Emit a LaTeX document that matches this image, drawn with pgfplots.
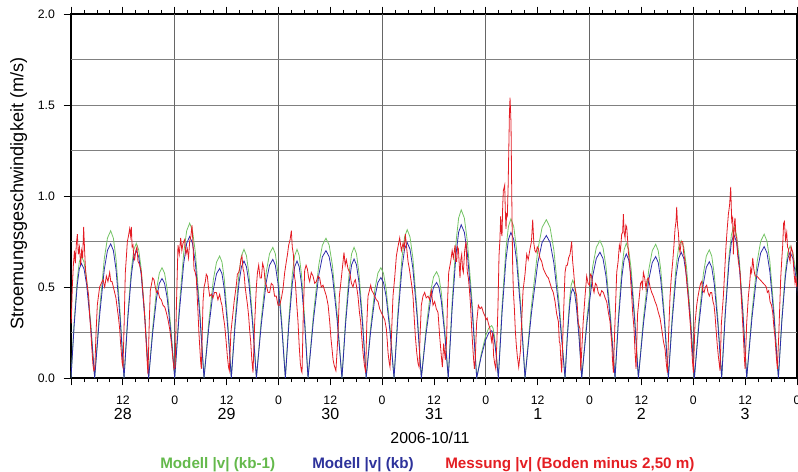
\documentclass[border=0pt]{standalone}
\usepackage{pgfplots}
\pgfplotsset{compat=1.18}
\usepackage{pgfplotstable}
\usepackage{fontspec}
\setmainfont{Liberation Sans}
\definecolor{mgreen}{RGB}{115,195,100}
\definecolor{mblue}{RGB}{45,45,170}
\definecolor{mred}{RGB}{228,28,36}
\definecolor{tgreen}{RGB}{100,185,75}
\definecolor{tblue}{RGB}{45,50,155}
\definecolor{tred}{RGB}{228,30,35}
\newcommand{\dl}[1]{{\fontsize{12}{12}\selectfont #1}}

% model: t (hours since 2006-10-28 00:00), |v| kb, |v| kb-1
\pgfplotstableread{
t b g
0.00 0 0
0.72 0.286 0.304
1.44 0.510 0.542
1.92 0.599 0.637
2.40 0.630 0.670
3.02 0.599 0.637
3.63 0.510 0.542
4.56 0.286 0.304
5.48 0 0
6.59 0.335 0.367
7.70 0.596 0.654
8.44 0.701 0.769
9.18 0.737 0.809
9.80 0.701 0.769
10.42 0.596 0.654
11.34 0.335 0.367
12.27 0 0
13.12 0.318 0.336
13.97 0.566 0.599
14.53 0.666 0.704
15.10 0.700 0.740
15.67 0.666 0.704
16.25 0.566 0.599
17.11 0.318 0.336
17.97 0 0
18.90 0.248 0.275
19.82 0.443 0.490
20.44 0.520 0.576
21.06 0.547 0.606
21.65 0.520 0.576
22.24 0.443 0.490
23.12 0.248 0.275
24.00 0 0
25.04 0.353 0.386
26.08 0.629 0.688
26.77 0.740 0.809
27.46 0.778 0.851
28.12 0.740 0.809
28.79 0.629 0.688
29.78 0.353 0.386
30.78 0 0
31.87 0.273 0.304
32.95 0.487 0.542
33.68 0.573 0.637
34.40 0.602 0.670
34.94 0.573 0.637
35.48 0.487 0.542
36.29 0.273 0.304
37.10 0 0
37.98 0.292 0.321
38.86 0.520 0.572
39.44 0.611 0.672
40.03 0.643 0.707
40.60 0.611 0.672
41.18 0.520 0.572
42.04 0.292 0.321
42.90 0 0
44.04 0.296 0.326
45.18 0.527 0.581
45.94 0.620 0.683
46.70 0.652 0.718
47.28 0.620 0.683
47.86 0.527 0.581
48.73 0.296 0.326
49.60 0 0
50.41 0.292 0.321
51.22 0.520 0.572
51.76 0.611 0.672
52.30 0.643 0.707
52.81 0.611 0.672
53.32 0.520 0.572
54.09 0.292 0.321
54.85 0 0
56.10 0.318 0.349
57.34 0.566 0.621
58.17 0.666 0.730
59.00 0.700 0.768
59.74 0.666 0.730
60.48 0.566 0.621
61.59 0.318 0.349
62.70 0 0
63.54 0.297 0.326
64.38 0.529 0.581
64.94 0.622 0.683
65.50 0.654 0.718
66.06 0.622 0.683
66.62 0.529 0.581
67.46 0.297 0.326
68.30 0 0
69.32 0.251 0.275
70.34 0.447 0.490
71.02 0.525 0.576
71.70 0.552 0.606
72.31 0.525 0.576
72.92 0.447 0.490
73.84 0.251 0.275
74.75 0 0
75.67 0.338 0.370
76.58 0.602 0.659
77.19 0.708 0.775
77.80 0.744 0.815
78.45 0.708 0.775
79.11 0.602 0.659
80.09 0.338 0.370
81.07 0 0
82.13 0.238 0.265
83.19 0.425 0.472
83.89 0.499 0.555
84.60 0.525 0.584
85.14 0.499 0.555
85.68 0.425 0.472
86.49 0.238 0.265
87.30 0 0
88.20 0.382 0.419
89.10 0.681 0.748
89.70 0.801 0.879
90.30 0.842 0.924
91.02 0.801 0.879
91.73 0.681 0.748
92.81 0.382 0.419
93.88 0 0
94.92 0.118 0.131
95.96 0.210 0.233
96.66 0.247 0.274
97.35 0.260 0.288
97.66 0.247 0.274
97.97 0.210 0.233
98.43 0.118 0.131
98.89 0 0
99.76 0.363 0.397
100.64 0.647 0.708
101.22 0.761 0.832
101.80 0.800 0.875
102.45 0.761 0.832
103.10 0.647 0.708
104.08 0.363 0.397
105.06 0 0
106.54 0.355 0.395
108.02 0.633 0.704
109.01 0.745 0.827
110.00 0.783 0.870
110.86 0.745 0.827
111.73 0.633 0.704
113.02 0.355 0.395
114.32 0 0
114.85 0.223 0.244
115.39 0.397 0.434
115.74 0.467 0.511
116.10 0.491 0.537
116.52 0.467 0.511
116.93 0.397 0.434
117.56 0.223 0.244
118.18 0 0
119.45 0.314 0.343
120.71 0.559 0.611
121.56 0.657 0.718
122.40 0.691 0.755
123.10 0.657 0.718
123.80 0.559 0.611
124.84 0.314 0.343
125.89 0 0
126.67 0.310 0.336
127.46 0.552 0.599
127.98 0.649 0.704
128.50 0.682 0.740
129.06 0.649 0.704
129.62 0.552 0.599
130.45 0.310 0.336
131.29 0 0
132.49 0.303 0.334
133.70 0.540 0.595
134.50 0.634 0.699
135.30 0.667 0.735
135.89 0.634 0.699
136.47 0.540 0.595
137.35 0.303 0.334
138.23 0 0
139.12 0.314 0.343
140.01 0.559 0.611
140.61 0.657 0.718
141.20 0.691 0.755
141.81 0.657 0.718
142.42 0.559 0.611
143.34 0.314 0.343
144.25 0 0
145.29 0.290 0.320
146.32 0.517 0.570
147.01 0.608 0.670
147.70 0.639 0.704
148.27 0.608 0.670
148.85 0.517 0.570
149.71 0.290 0.320
150.57 0 0
151.42 0.357 0.377
152.27 0.637 0.671
152.83 0.748 0.789
153.40 0.787 0.830
153.99 0.748 0.789
154.58 0.637 0.671
155.47 0.357 0.377
156.36 0 0
157.57 0.328 0.359
158.78 0.584 0.639
159.59 0.687 0.751
160.40 0.722 0.790
161.06 0.687 0.751
161.72 0.584 0.639
162.70 0.328 0.359
163.69 0 0
164.50 0.314 0.329
165.32 0.559 0.587
165.86 0.657 0.689
166.40 0.691 0.725
167.06 0.657 0.689
167.72 0.559 0.587
168.71 0.314 0.329
169.70 0 0
}\model

% measurement |v| (Boden minus 2,50 m)
\pgfplotstableread{
t v
0.05 0.30
0.30 0.50
0.55 0.62
0.80 0.70
1.00 0.63
1.25 0.74
1.47 0.79
1.70 0.68
1.95 0.72
2.24 0.62
2.45 0.70
2.70 0.66
2.93 0.83
3.15 0.70
3.35 0.60
3.55 0.55
3.80 0.50
4.09 0.45
4.30 0.35
4.55 0.27
4.80 0.17
5.09 0.07
5.30 0.04
5.50 0.05
5.80 0.25
6.09 0.40
6.35 0.45
6.63 0.50
7.00 0.52
7.41 0.54
7.80 0.50
8.18 0.56
8.55 0.53
8.95 0.58
9.20 0.53
9.49 0.53
9.80 0.50
10.10 0.47
10.40 0.44
10.72 0.38
11.00 0.33
11.26 0.27
11.45 0.20
11.65 0.14
11.85 0.08
12.03 0.06
12.30 0.30
12.57 0.58
12.80 0.66
13.04 0.75
13.30 0.78
13.58 0.82
13.80 0.78
13.96 0.83
14.15 0.72
14.35 0.73
14.55 0.66
14.73 0.65
15.00 0.70
15.27 0.72
15.50 0.64
15.74 0.63
16.00 0.61
16.28 0.58
16.60 0.48
16.89 0.40
17.15 0.30
17.43 0.18
17.65 0.08
17.82 0.02
18.10 0.30
18.35 0.48
18.59 0.51
18.90 0.55
19.21 0.54
19.50 0.50
19.75 0.47
20.10 0.48
20.52 0.44
20.90 0.43
21.29 0.40
21.70 0.39
22.06 0.36
22.45 0.32
22.83 0.27
23.10 0.22
23.37 0.16
23.60 0.10
23.84 0.05
24.10 0.06
24.40 0.40
24.76 0.73
25.05 0.68
25.38 0.77
25.65 0.70
25.92 0.74
26.30 0.76
26.60 0.68
26.92 0.71
27.20 0.66
27.46 0.75
27.75 0.78
28.00 0.84
28.20 0.75
28.46 0.60
28.75 0.58
29.00 0.55
29.20 0.45
29.39 0.36
29.60 0.25
29.77 0.18
30.00 0.09
30.16 0.05
30.35 0.22
30.55 0.42
30.80 0.50
31.09 0.53
31.30 0.57
31.55 0.56
31.80 0.50
32.09 0.45
32.50 0.46
32.86 0.44
33.20 0.47
33.63 0.47
34.00 0.43
34.40 0.46
34.70 0.42
34.94 0.40
35.25 0.34
35.56 0.29
35.90 0.20
36.18 0.12
36.45 0.06
36.64 0.04
37.00 0.25
37.49 0.36
37.75 0.42
38.03 0.47
38.30 0.52
38.49 0.57
38.80 0.58
39.03 0.60
39.30 0.65
39.57 0.67
39.80 0.60
40.03 0.58
40.30 0.50
40.57 0.45
40.85 0.40
41.11 0.34
41.35 0.26
41.58 0.20
41.85 0.10
42.12 0.03
42.50 0.30
42.89 0.50
43.15 0.58
43.43 0.62
43.75 0.55
44.05 0.55
44.35 0.63
44.66 0.60
44.95 0.52
45.20 0.51
45.60 0.47
45.97 0.47
46.35 0.52
46.74 0.51
47.10 0.45
47.51 0.45
47.90 0.40
48.29 0.40
48.70 0.44
49.06 0.49
49.45 0.58
49.83 0.64
50.10 0.68
50.37 0.73
50.70 0.76
50.99 0.81
51.20 0.72
51.45 0.68
51.70 0.56
51.91 0.53
52.20 0.42
52.53 0.31
52.80 0.18
53.07 0.08
53.30 0.04
53.46 0.03
53.75 0.35
54.07 0.59
54.40 0.62
54.69 0.60
55.00 0.55
55.23 0.53
55.60 0.58
56.00 0.56
56.40 0.52
56.77 0.53
57.15 0.56
57.54 0.55
57.90 0.50
58.32 0.51
58.70 0.48
59.09 0.45
59.50 0.40
59.86 0.31
60.15 0.22
60.40 0.16
60.65 0.10
60.90 0.07
61.30 0.04
61.70 0.20
62.10 0.45
62.56 0.55
63.17 0.69
63.45 0.62
63.71 0.65
64.10 0.60
64.49 0.58
64.90 0.52
65.26 0.50
65.55 0.53
65.80 0.54
66.10 0.50
66.41 0.45
66.75 0.36
67.03 0.31
67.30 0.22
67.57 0.14
67.90 0.07
68.19 0.03
68.45 0.30
68.73 0.45
69.05 0.48
69.35 0.51
69.60 0.48
69.89 0.47
70.25 0.45
70.66 0.43
71.05 0.42
71.43 0.38
71.80 0.36
72.20 0.34
72.60 0.32
72.97 0.27
73.20 0.20
73.36 0.14
73.60 0.09
73.82 0.06
74.10 0.20
74.51 0.45
74.90 0.55
75.29 0.67
75.65 0.72
76.06 0.77
76.45 0.70
76.83 0.74
77.10 0.71
77.37 0.79
77.65 0.72
77.99 0.64
78.30 0.60
78.60 0.55
78.90 0.50
79.14 0.45
79.40 0.34
79.68 0.23
80.00 0.14
80.30 0.08
80.55 0.06
80.80 0.25
81.07 0.40
81.45 0.45
81.84 0.47
82.20 0.44
82.61 0.45
83.00 0.43
83.38 0.48
83.77 0.40
84.15 0.42
84.54 0.38
84.93 0.36
85.31 0.23
85.70 0.12
85.93 0.06
86.24 0.19
86.40 0.15
86.62 0.10
86.90 0.20
87.10 0.40
87.40 0.58
87.86 0.64
88.20 0.70
88.48 0.66
88.87 0.73
89.05 0.64
89.25 0.64
89.45 0.72
89.64 0.71
89.85 0.62
90.02 0.55
90.20 0.65
90.41 0.68
90.60 0.60
90.79 0.58
91.10 0.70
91.41 0.75
91.60 0.62
91.72 0.58
91.95 0.55
92.18 0.49
92.45 0.40
92.72 0.27
92.95 0.18
93.11 0.12
93.35 0.05
93.55 0.10
93.85 0.30
94.26 0.40
94.65 0.38
95.04 0.39
95.42 0.36
95.80 0.34
96.04 0.32
96.30 0.33
96.58 0.30
96.96 0.27
97.20 0.22
97.35 0.20
97.58 0.25
97.80 0.12
98.04 0.08
98.30 0.05
98.55 0.20
98.81 0.40
99.04 0.67
99.25 0.76
99.43 0.89
99.60 0.80
99.74 0.78
99.90 0.95
100.05 1.03
100.36 1.06
100.50 0.92
100.66 0.82
100.80 0.90
100.97 0.89
101.15 1.05
101.28 1.22
101.45 1.45
101.59 1.54
101.70 1.48
101.82 1.40
101.95 1.10
102.05 0.89
102.20 0.62
102.36 0.48
102.60 0.38
102.82 0.26
103.05 0.18
103.28 0.12
103.60 0.06
104.00 0.15
104.60 0.48
105.06 0.57
105.45 0.68
105.80 0.65
106.22 0.71
106.55 0.75
106.84 0.87
107.10 0.74
107.35 0.70
107.61 0.69
107.90 0.72
108.15 0.71
108.50 0.66
108.92 0.64
109.30 0.60
109.69 0.58
110.10 0.56
110.46 0.55
110.85 0.52
111.24 0.49
111.60 0.47
112.01 0.42
112.40 0.35
112.78 0.31
113.00 0.20
113.16 0.19
113.35 0.10
113.55 0.03
113.90 0.30
114.32 0.58
114.60 0.62
114.86 0.62
115.15 0.66
115.48 0.68
115.86 0.75
116.05 0.65
116.25 0.60
116.60 0.50
117.02 0.45
117.40 0.30
117.79 0.27
117.95 0.04
118.50 0.30
118.95 0.45
119.33 0.56
119.65 0.52
119.95 0.51
120.20 0.57
120.49 0.56
120.75 0.50
121.03 0.47
121.35 0.52
121.65 0.51
122.00 0.47
122.42 0.45
122.80 0.48
123.19 0.47
123.60 0.44
123.96 0.42
124.35 0.36
124.73 0.31
124.95 0.24
125.12 0.20
125.30 0.10
125.51 0.03
125.80 0.25
126.28 0.58
126.60 0.64
126.89 0.73
127.15 0.70
127.43 0.79
127.65 0.80
127.82 0.90
128.00 0.80
128.21 0.77
128.40 0.84
128.59 0.83
128.80 0.76
128.98 0.69
129.20 0.64
129.36 0.60
129.55 0.52
129.75 0.45
130.00 0.35
130.29 0.27
130.50 0.15
130.75 0.05
131.10 0.35
131.52 0.45
131.80 0.52
132.06 0.53
132.25 0.50
132.45 0.58
132.75 0.55
133.06 0.49
133.30 0.54
133.60 0.55
134.00 0.50
134.38 0.47
134.75 0.45
135.15 0.42
135.50 0.40
135.92 0.36
136.30 0.33
136.69 0.27
137.10 0.20
137.46 0.16
137.75 0.08
138.00 0.03
138.30 0.25
138.62 0.45
138.90 0.55
139.24 0.64
139.50 0.72
139.78 0.82
140.00 0.86
140.16 0.94
140.35 0.84
140.55 0.80
140.75 0.72
140.93 0.69
141.20 0.75
141.55 0.75
141.80 0.68
142.09 0.64
142.47 0.53
142.80 0.45
143.09 0.36
143.35 0.28
143.63 0.16
143.85 0.08
144.02 0.03
144.40 0.30
144.79 0.40
145.10 0.45
145.41 0.49
145.70 0.52
145.95 0.53
146.20 0.48
146.49 0.47
146.80 0.50
147.10 0.51
147.40 0.47
147.72 0.45
148.00 0.47
148.26 0.47
148.55 0.42
148.80 0.40
149.05 0.34
149.26 0.27
149.55 0.18
149.80 0.12
150.19 0.04
150.50 0.30
150.96 0.45
151.25 0.58
151.58 0.73
151.85 0.82
152.12 0.90
152.40 0.95
152.66 1.05
152.89 0.86
153.10 0.88
153.28 0.68
153.50 0.85
153.66 0.88
153.85 0.78
154.05 0.77
154.25 0.68
154.43 0.64
154.82 0.58
155.20 0.40
155.59 0.23
155.80 0.12
155.98 0.05
156.35 0.30
156.75 0.45
157.05 0.52
157.29 0.60
157.50 0.58
157.75 0.66
158.00 0.60
158.29 0.56
158.70 0.56
159.06 0.55
159.45 0.54
159.83 0.53
160.20 0.52
160.60 0.51
160.90 0.50
161.14 0.47
161.45 0.48
161.76 0.42
162.10 0.40
162.38 0.36
162.65 0.28
162.92 0.22
163.20 0.12
163.46 0.05
163.80 0.25
164.23 0.55
164.50 0.66
164.69 0.73
164.90 0.85
165.08 0.86
165.35 0.76
165.62 0.80
165.80 0.72
166.00 0.71
166.20 0.66
166.39 0.64
166.65 0.72
167.01 0.69
167.30 0.58
167.54 0.52
167.75 0.56
167.93 0.50
}\meas

\begin{document}
\begin{tikzpicture}
\begin{axis}[
  scale only axis, width=544.5pt, height=273pt,
  xmin=0, xmax=168, ymin=0, ymax=2,
  axis line style={line width=2.2pt},
  tick align=outside,
  xtick={0,12,...,168},
  xticklabels={,{12\\\dl{28}},0,{12\\\dl{29}},0,{12\\\dl{30}},0,{12\\\dl{31}},0,{12\\\dl{1}},0,{12\\\dl{2}},0,{12\\\dl{3}},0},
  minor x tick num=3,
  xtick pos=both,
  ytick pos=left,
  ytick={0,0.5,1,1.5,2}, yticklabels={0.0,0.5,1.0,1.5,2.0},
  ymajorgrids,
  major grid style={black!50, line width=0.6pt},
  extra y ticks={0.25,0.75,1.25,1.75},
  extra y tick labels={},
  extra y tick style={grid=major, major tick length=0pt},
  extra x ticks={24,48,...,144},
  extra x tick labels={},
  extra x tick style={grid=major, major grid style={black!60, line width=0.6pt}, major tick length=0pt},
  major tick length=5.5pt, minor tick length=3pt,
  every tick/.style={black, line width=0.6pt},
  tick label style={font=\fontsize{9.2}{11.5}\selectfont},
  xticklabel style={align=center, anchor=north, yshift=-4.5pt},
  yticklabel style={anchor=east, xshift=-3pt},
]
\addplot[mgreen, line width=0.6pt] table[x=t, y=g] {\model};
\addplot[mblue, line width=0.6pt] table[x=t, y=b] {\model};
\addplot[mred, line width=0.6pt] table[x=t, y=v] {\meas};
\end{axis}
\node[font=\fontsize{11.9}{14}\selectfont, anchor=base] at (269.25pt,-48.9pt) {2006-10/11};
\node[rotate=90, font=\fontsize{13.6}{16}\selectfont, anchor=base] at (-35.7pt,138.4pt) {Stroemungsgeschwindigkeit (m/s)};
\node[font=\bfseries\fontsize{11.4}{14}\selectfont, text=tgreen, anchor=base west, inner sep=0pt] at (66.75pt,-67.8pt) {Modell |v| (kb-1)};
\node[font=\bfseries\fontsize{11.4}{14}\selectfont, text=tblue, anchor=base west, inner sep=0pt] at (180.75pt,-67.8pt) {Modell |v| (kb)};
\node[font=\bfseries\fontsize{11.4}{14}\selectfont, text=tred, anchor=base west, inner sep=0pt] at (280.5pt,-67.8pt) {Messung |v| (Boden minus 2,50 m)};
\pgfresetboundingbox
\useasboundingbox (-53.25pt,-69.75pt) rectangle (545.25pt,283.5pt);
\end{tikzpicture}
\end{document}
